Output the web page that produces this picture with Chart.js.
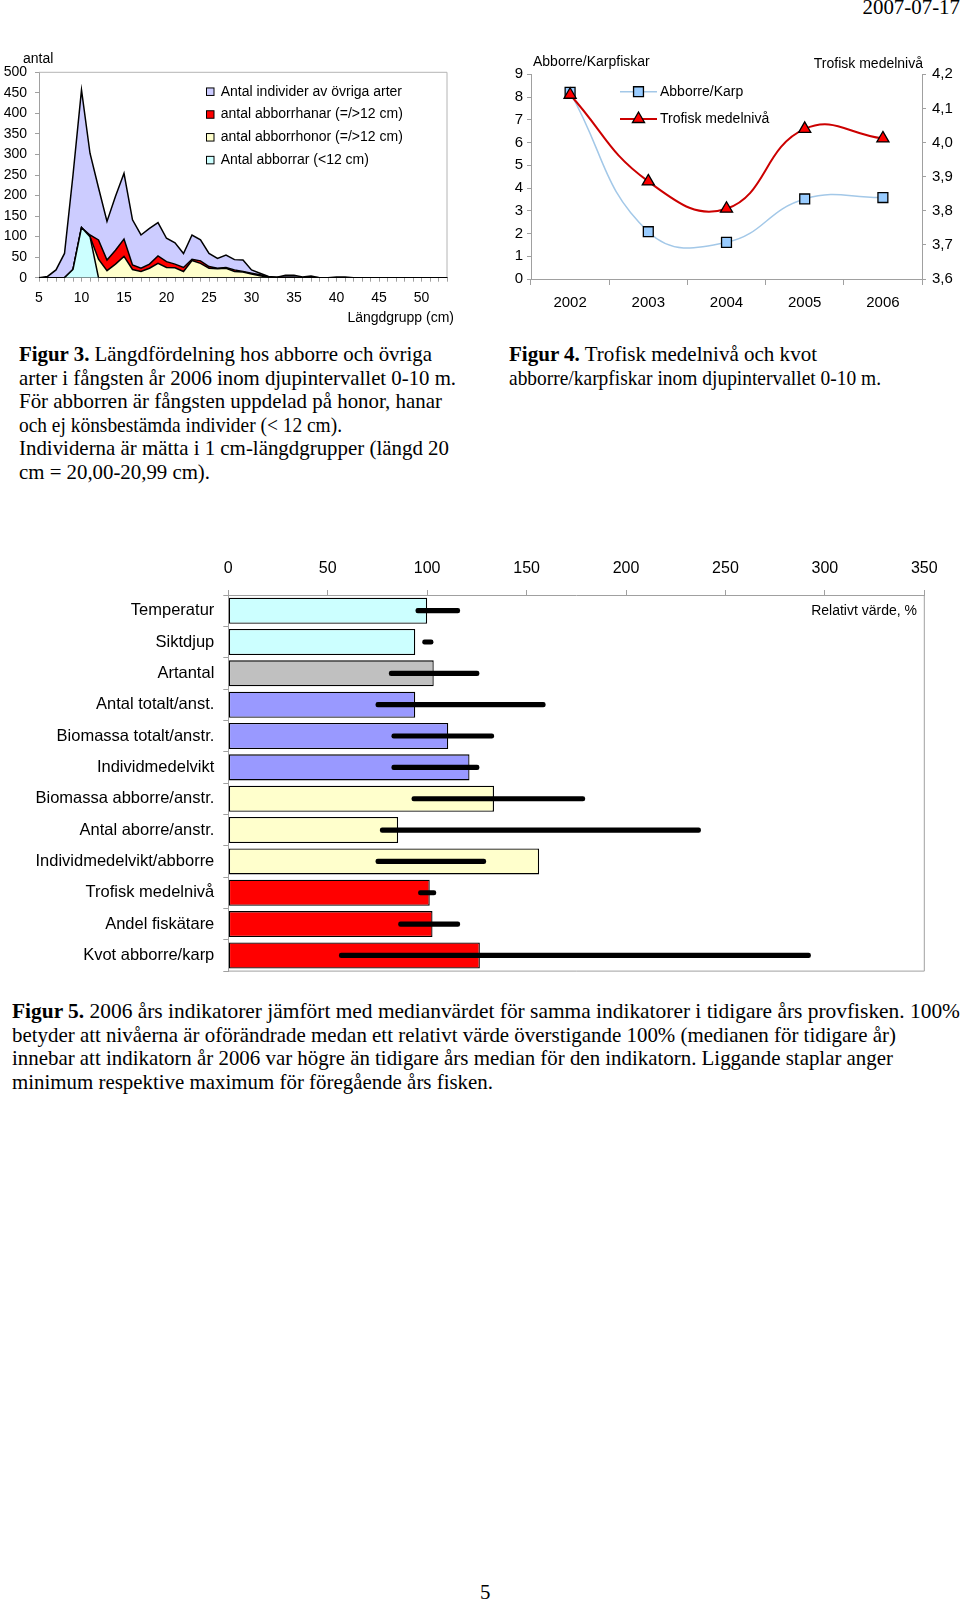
<!DOCTYPE html>
<html lang="sv">
<head>
<meta charset="utf-8">
<title>Figur 3-5</title>
<script src="https://cdn.jsdelivr.net/npm/chart.js@4.4.1/dist/chart.umd.min.js"></script>
<style>
  html, body { margin: 0; padding: 0; background: #fff; }
  #page { position: relative; width: 960px; height: 1603px; overflow: hidden;
          font-family: "Liberation Serif", "Times New Roman", serif; color: #000; }
  canvas { position: absolute; }
  .lbl { position: absolute; font-family: "Liberation Sans", Arial, sans-serif;
         font-size: 14px; line-height: 16px; white-space: nowrap; }
  .cap { position: absolute; font-size: 20.9px; line-height: 23.6px; white-space: nowrap; }
  .sq { display: inline-block; transform-origin: left center; }
</style>
</head>
<body>
<div id="page">
  <div class="cap" style="right:0; top:-4px;">2007-07-17</div>

  <canvas id="lengthChart" width="470" height="290" style="left:0; top:40px;"></canvas>
  <div class="lbl" style="left:23px; top:50px;">antal</div>
  <div class="lbl" style="right:506px; top:309px;">Längdgrupp (cm)</div>

  <canvas id="trophicChart" width="480" height="280" style="left:480px; top:40px;"></canvas>
  <div class="lbl" style="left:533px; top:53px;">Abborre/Karpfiskar</div>
  <div class="lbl" style="right:37px; top:55px;">Trofisk medelnivå</div>

  <div class="cap" style="left:19px; top:343px;">
    <span class="sq" data-w="413"><b>Figur 3.</b> Längdfördelning hos abborre och övriga</span><br>
    <span class="sq" data-w="437">arter i fångsten år 2006 inom djupintervallet 0-10 m.</span><br>
    <span class="sq" data-w="423">För abborren är fångsten uppdelad på honor, hanar</span><br>
    <span class="sq" data-w="323">och ej könsbestämda individer (&lt; 12 cm).</span><br>
    <span class="sq" data-w="430">Individerna är mätta i 1 cm-längdgrupper (längd 20</span><br>
    <span class="sq" data-w="191">cm = 20,00-20,99 cm).</span>
  </div>
  <div class="cap" style="left:509px; top:343px;">
    <span class="sq" data-w="308"><b>Figur 4.</b> Trofisk medelnivå och kvot</span><br>
    <span class="sq" data-w="372">abborre/karpfiskar inom djupintervallet 0-10 m.</span>
  </div>

  <canvas id="indicatorChart" width="960" height="450" style="left:0; top:540px;"></canvas>
  <div class="lbl" style="right:43px; top:602px;">Relativt värde, %</div>

  <div class="cap" style="left:12px; top:1000px;">
    <span class="sq" data-w="948"><b>Figur 5.</b> 2006 års indikatorer jämfört med medianvärdet för samma indikatorer i tidigare års provfisken. 100%</span><br>
    <span class="sq" data-w="884">betyder att nivåerna är oförändrade medan ett relativt värde överstigande 100% (medianen för tidigare år)</span><br>
    <span class="sq" data-w="881">innebar att indikatorn år 2006 var högre än tidigare års median för den indikatorn. Liggande staplar anger</span><br>
    <span class="sq" data-w="481">minimum respektive maximum för föregående års fisken.</span>
  </div>

  <div class="cap" style="left:480px; top:1581px;">5</div>
</div>

<script>
// Figur 3 - längdfördelning (cm 5..53)
const lengthGroups = [5, 6, 7, 8, 9, 10, 11, 12, 13, 14, 15, 16, 17, 18, 19, 20, 21, 22, 23, 24, 25, 26, 27,
  28, 29, 30, 31, 32, 33, 34, 35, 36, 37, 38, 39, 40, 41, 42, 43, 44, 45, 46, 47, 48, 49, 50, 51, 52, 53];
const lengthTickLabels = ['5', '10', '15', '20', '25', '30', '35', '40', '45', '50'];
const perchSmall = [0, 0, 0, 0, 20, 122, 100, 0, 0, 0, 0, 0, 0, 0, 0, 0, 0, 0, 0, 0, 0, 0, 0,
  0, 0, 0, 0, 0, 0, 0, 0, 0, 0, 0, 0, 0, 0, 0, 0, 0, 0, 0, 0, 0, 0, 0, 0, 0, 0];
const perchFemales = [0, 0, 0, 0, 0, 0, 0, 45, 17, 33, 52, 20, 15, 23, 35, 25, 24, 15, 42, 35, 23, 22, 23,
  15, 14, 9, 5, 1, 0, 0, 0, 0, 0, 0, 0, 0, 0, 0, 0, 0, 0, 0, 0, 0, 0, 0, 0, 0, 0];
const perchMales = [0, 0, 0, 0, 0, 0, 4, 47, 26, 34, 42, 11, 8, 10, 18, 14, 9, 10, 3, 6, 4, 1, 2,
  4, 1, 2, 2, 1, 1, 2, 2, 0, 1, 0, 0, 0, 0, 0, 0, 0, 0, 0, 0, 0, 0, 0, 0, 0, 0];
const otherSpecies = [0, 3, 19, 59, 230, 335, 199, 127, 94, 131, 160, 110, 81, 87, 81, 57, 52, 34, 59, 51, 32, 24, 30,
  25, 28, 8, 4, 1, 0, 4, 4, 2, 3, 0, 0, 2, 2, 0, 0, 0, 0, 0, 0, 0, 0, 0, 0, 0, 0];

// Figur 4 - trofisk nivå
const years = ['2002', '2003', '2004', '2005', '2006'];
const perchCarpRatio = [8.21, 2.08, 1.61, 3.52, 3.58];
const trophicLevel = [4.14, 3.886, 3.806, 4.04, 4.012];

// Figur 5 - indikatorer
const indicators = ['Temperatur', 'Siktdjup', 'Artantal', 'Antal totalt/anst.', 'Biomassa totalt/anstr.',
  'Individmedelvikt', 'Biomassa abborre/anstr.', 'Antal aborre/anstr.', 'Individmedelvikt/abborre',
  'Trofisk medelnivå', 'Andel fiskätare', 'Kvot abborre/karp'];
const relative2006 = [100, 94, 103.3, 94, 110.6, 121.3, 133.6, 85.4, 156.3, 101.3, 102.7, 126.5];
const earlierMin = [94.3, 97.7, 80.9, 74.2, 82.2, 82.2, 92.3, 76.4, 74.2, 95.6, 85.6, 55.8];
const earlierMax = [116.4, 103, 126.1, 159.4, 133.5, 126.1, 179.3, 237.5, 129.5, 104.4, 116.4, 292.8];
const indicatorColors = ['#ccffff', '#ccffff', '#c0c0c0', '#9999ff', '#9999ff', '#9999ff',
  '#ffffcc', '#ffffcc', '#ffffcc', '#ff0000', '#ff0000', '#ff0000'];

Chart.defaults.font.family = '"Liberation Sans", Arial, sans-serif';
Chart.defaults.color = '#000';
Chart.defaults.animation = false;

const AXIS_GREY = '#a0a0a0';

// ram runt ritytan
const plotFrame = {
  id: 'plotFrame',
  beforeDatasetsDraw(chart, args, opts) {
    const { left, top, right, bottom } = chart.chartArea;
    const ctx = chart.ctx;
    ctx.save();
    ctx.strokeStyle = opts.color;
    ctx.lineWidth = 1;
    ctx.beginPath();
    (opts.sides || []).forEach(side => {
      if (side === 'top') { ctx.moveTo(left, top); ctx.lineTo(right, top); }
      if (side === 'right') { ctx.moveTo(right, top); ctx.lineTo(right, bottom); }
      if (side === 'bottom') { ctx.moveTo(left, bottom); ctx.lineTo(right, bottom); }
    });
    ctx.stroke();
    ctx.restore();
  }
};

// förklaring inne i diagrammet
const insideLegend = {
  id: 'insideLegend',
  afterDraw(chart, args, opts) {
    const ctx = chart.ctx;
    ctx.save();
    ctx.font = opts.font;
    ctx.textBaseline = 'middle';
    ctx.textAlign = 'left';
    opts.order.forEach((di, row) => {
      const ds = chart.data.datasets[di];
      const y = opts.y + row * opts.rowHeight;
      if (opts.sample === 'box') {
        const s = opts.boxSize;
        ctx.fillStyle = ds.backgroundColor;
        ctx.fillRect(opts.x, y - s / 2, s, s);
        ctx.strokeStyle = '#000';
        ctx.lineWidth = 1;
        ctx.strokeRect(opts.x, y - s / 2, s, s);
      } else {
        ctx.strokeStyle = ds.borderColor;
        ctx.lineWidth = ds.borderWidth;
        ctx.beginPath();
        ctx.moveTo(opts.x, y);
        ctx.lineTo(opts.x + opts.lineLength, y);
        ctx.stroke();
        ctx.fillStyle = ds.pointBackgroundColor;
        ctx.strokeStyle = ds.pointBorderColor;
        ctx.lineWidth = ds.pointBorderWidth;
        Chart.helpers.drawPoint(ctx, {
          pointStyle: ds.pointStyle, radius: ds.pointRadius,
          rotation: 0, borderWidth: ds.pointBorderWidth
        }, opts.x + opts.lineLength / 2, y);
      }
      ctx.fillStyle = '#000';
      ctx.fillText(ds.label, opts.textX, y);
    });
    ctx.restore();
  }
};

// Figur 3
new Chart(document.getElementById('lengthChart'), {
  type: 'line',
  data: {
    labels: lengthGroups.map(String),
    datasets: [
      { label: 'Antal abborrar (<12 cm)', data: perchSmall, backgroundColor: '#ccffff', fill: 'origin' },
      { label: 'antal abborrhonor (=/>12 cm)', data: perchFemales, backgroundColor: '#ffffcc', fill: '-1' },
      { label: 'antal abborrhanar (=/>12 cm)', data: perchMales, backgroundColor: '#ff0000', fill: '-1' },
      { label: 'Antal individer av övriga arter', data: otherSpecies, backgroundColor: '#ccccff', fill: '-1' }
    ].map(ds => Object.assign(ds, { borderColor: '#000', borderWidth: 1.5, pointRadius: 0, tension: 0 }))
  },
  options: {
    responsive: false,
    devicePixelRatio: 1,
    layout: { padding: { top: 32.3, right: 23, left: 0, bottom: 0 } },
    scales: {
      x: {
        offset: false,
        grid: { drawOnChartArea: false, tickLength: 4, color: AXIS_GREY },
        border: { color: '#404040' },
        ticks: {
          autoSkip: false, maxRotation: 0, padding: 8, font: { size: 14 },
          callback(value) {
            const l = this.getLabelForValue(value);
            return lengthTickLabels.includes(l) ? l : '';
          }
        },
        afterFit(s) { s.height = 52.3; }
      },
      y: {
        stacked: true, min: 0, max: 500,
        grid: { drawOnChartArea: false, tickLength: 4, color: AXIS_GREY },
        border: { color: AXIS_GREY },
        ticks: { stepSize: 50, padding: 8, font: { size: 14 } },
        afterFit(s) { s.width = 39; }
      }
    },
    plugins: {
      legend: { display: false },
      tooltip: { enabled: false },
      plotFrame: { color: '#b4b4b4', sides: ['top', 'right'] },
      insideLegend: {
        sample: 'box', order: [3, 2, 1, 0], x: 206.5, y: 51.7, rowHeight: 22.8,
        boxSize: 7.5, textX: 220.7, font: '14px "Liberation Sans", Arial, sans-serif'
      }
    }
  },
  plugins: [plotFrame, insideLegend]
});

// Figur 4
new Chart(document.getElementById('trophicChart'), {
  type: 'line',
  data: {
    labels: years,
    datasets: [
      {
        label: 'Abborre/Karp', data: perchCarpRatio, yAxisID: 'y', order: 1,
        borderColor: '#a3c8e8', borderWidth: 1.5, tension: 0.45,
        pointStyle: 'rect', pointRadius: 7, pointBackgroundColor: '#99ccff',
        pointBorderColor: '#000', pointBorderWidth: 1.3
      },
      {
        label: 'Trofisk medelnivå', data: trophicLevel, yAxisID: 'y1', order: 0,
        borderColor: '#cc0000', borderWidth: 2, tension: 0.45,
        pointStyle: 'triangle', pointRadius: 7, pointBackgroundColor: '#ff0000',
        pointBorderColor: '#000', pointBorderWidth: 1.3
      }
    ]
  },
  options: {
    responsive: false,
    devicePixelRatio: 1,
    layout: { padding: { top: 34.3, right: 0, left: 0, bottom: 0 } },
    scales: {
      x: {
        offset: true,
        grid: { offset: true, drawOnChartArea: false, tickLength: 6, color: AXIS_GREY },
        border: { color: AXIS_GREY },
        ticks: { maxRotation: 0, padding: 8.5, font: { size: 15 } },
        afterFit(s) { s.height = 41; }
      },
      y: {
        position: 'left', min: 0, max: 9,
        grid: { drawOnChartArea: false, tickLength: 4, color: AXIS_GREY },
        border: { color: AXIS_GREY },
        ticks: { stepSize: 1, padding: 4, font: { size: 15 } },
        afterFit(s) { s.width = 51; }
      },
      y1: {
        position: 'right', min: 3.6, max: 4.2,
        grid: { drawOnChartArea: false, tickLength: 4, color: AXIS_GREY },
        border: { color: AXIS_GREY },
        ticks: {
          stepSize: 0.1, padding: 6, font: { size: 15 },
          callback: v => v.toFixed(1).replace('.', ',')
        },
        afterFit(s) { s.width = 38; }
      }
    },
    plugins: {
      legend: { display: false },
      tooltip: { enabled: false },
      insideLegend: {
        sample: 'line', order: [0, 1], x: 140, y: 51.7, rowHeight: 27.3,
        lineLength: 37, textX: 180, font: '14px "Liberation Sans", Arial, sans-serif'
      }
    }
  },
  plugins: [insideLegend]
});

// Figur 5
new Chart(document.getElementById('indicatorChart'), {
  type: 'bar',
  data: {
    labels: indicators,
    datasets: [
      {
        label: 'Min-max tidigare år', data: earlierMin.map((m, i) => [m, earlierMax[i]]),
        backgroundColor: '#000', barThickness: 4.5, borderSkipped: false, borderRadius: 2.25,
        grouped: false, order: 0
      },
      {
        label: 'Relativt värde 2006', data: relative2006,
        backgroundColor: indicatorColors, borderColor: '#000', borderWidth: 1.3, borderSkipped: false,
        barPercentage: 0.83, categoryPercentage: 1, grouped: false, order: 1
      }
    ]
  },
  options: {
    indexAxis: 'y',
    responsive: false,
    devicePixelRatio: 1,
    layout: { padding: { top: 0, right: 35.7, left: 0, bottom: 12.8 } },
    scales: {
      x: {
        position: 'top', min: 0, max: 350,
        grid: { drawOnChartArea: false, tickLength: 5, color: AXIS_GREY },
        border: { color: AXIS_GREY },
        ticks: { stepSize: 50, padding: 12, font: { size: 16 } },
        afterFit(s) { s.height = 55; }
      },
      y: {
        grid: { offset: true, drawOnChartArea: false, tickLength: 5, color: AXIS_GREY },
        border: { color: AXIS_GREY },
        ticks: { padding: 9, font: { size: 16.5 } },
        afterFit(s) { s.width = 228.3; }
      }
    },
    plugins: {
      legend: { display: false },
      tooltip: { enabled: false },
      plotFrame: { color: AXIS_GREY, sides: ['right', 'bottom'] }
    }
  },
  plugins: [plotFrame]
});

// bildtexterna har något andra radbredder i originalet
document.querySelectorAll('.sq').forEach(el => {
  const w = el.getBoundingClientRect().width;
  el.style.transform = 'scaleX(' + (Number(el.dataset.w) / w).toFixed(4) + ')';
});
</script>
</body>
</html>
